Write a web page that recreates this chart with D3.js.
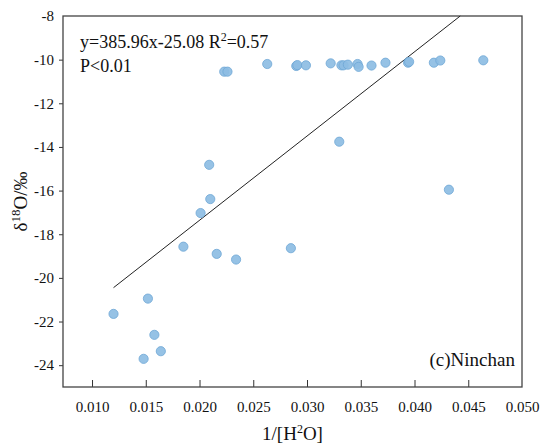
<!DOCTYPE html>
<html>
<head>
<meta charset="utf-8">
<script src="https://cdn.jsdelivr.net/npm/d3@7"></script>
<style>
  body { margin: 0; background: #fff; }
  text { font-family: "Liberation Serif", "Times New Roman", serif; fill: #111; }
</style>
</head>
<body>
<div id="chart"></div>
<script>

  // data
  var invH2O = [0.0223, 0.0226, 0.0263, 0.0290, 0.0291, 0.0299, 0.0322, 0.0332, 0.0334,
                0.0338, 0.0347, 0.0348, 0.0360, 0.0373, 0.0394, 0.0395, 0.0418, 0.0424,
                0.0464, 0.0330, 0.0209, 0.0432, 0.0210, 0.0201, 0.0185, 0.0216, 0.0234,
                0.0285, 0.0152, 0.0120, 0.0158, 0.0164, 0.0148];
  var d18O = [-10.55, -10.55, -10.20, -10.29, -10.25, -10.26, -10.17, -10.26, -10.26,
              -10.23, -10.20, -10.33, -10.27, -10.14, -10.14, -10.10, -10.14, -10.04,
              -10.03, -13.76, -14.82, -15.96, -16.39, -17.03, -18.57, -18.90, -19.16,
              -18.64, -20.95, -21.65, -22.61, -23.36, -23.71];
  var xTicks = [0.010, 0.015, 0.020, 0.025, 0.030, 0.035, 0.040, 0.045, 0.050];
  var yTicks = [-8, -10, -12, -14, -16, -18, -20, -22, -24];
  var slope = 385.96, intercept = -25.08;

  var width = 540, height = 446;
  var margin = { top: 16, right: 18, bottom: 59, left: 63 };
  var iwidth = width - margin.left - margin.right,
      iheight = height - margin.top - margin.bottom;

  var svg = d3.select("#chart").append("svg")
    .attr("width", width)
    .attr("height", height);

  var g = svg.append("g")
    .attr("transform", `translate(${margin.left}, ${margin.top})`);

  var x = d3.scaleLinear().domain([0.0073, 0.050]).range([0, iwidth]);
  var y = d3.scaleLinear().domain([-25, -8]).range([iheight, 0]);

  //=========================================================================
  // axes
  //=========================================================================
  var xAxis = g.append("g")
    .attr("transform", `translate(0, ${iheight})`)
    .call(d3.axisBottom(x).tickValues(xTicks).tickFormat(d3.format(".3f"))
      .tickSizeInner(-7).tickSizeOuter(0).tickPadding(14));
  xAxis.select(".domain").remove();
  xAxis.selectAll("line").attr("stroke", "#333");
  xAxis.selectAll("line").filter(function(d) { return d === 0.050; }).remove();
  xAxis.selectAll("text").attr("font-size", 15)
    .attr("font-family", "Liberation Serif").attr("fill", "#111");

  var yAxis = g.append("g")
    .call(d3.axisLeft(y).tickValues(yTicks).tickFormat(d3.format("d"))
      .tickSizeInner(4).tickSizeOuter(0).tickPadding(5));
  yAxis.select(".domain").remove();
  yAxis.selectAll("line").attr("stroke", "#333");
  yAxis.selectAll("line").filter(function(d) { return d === -8; }).remove();
  yAxis.selectAll("text").attr("font-size", 15)
    .attr("font-family", "Liberation Serif").attr("fill", "#111")
    .text(function(d) { return String(d).replace("\u2212", "-"); });

  // frame
  g.append("rect")
    .attr("x", 0).attr("y", 0)
    .attr("width", iwidth).attr("height", iheight)
    .attr("fill", "none")
    .attr("stroke", "#444")
    .attr("stroke-width", 1.3);

  //=========================================================================
  // regression line
  //=========================================================================
  var x1 = d3.min(invH2O), x2 = (y.domain()[1] - intercept) / slope;
  g.append("line")
    .attr("x1", x(x1)).attr("y1", y(slope * x1 + intercept))
    .attr("x2", x(x2)).attr("y2", y(slope * x2 + intercept))
    .attr("stroke", "#222")
    .attr("stroke-width", 1);

  //=========================================================================
  // points
  //=========================================================================
  g.append("g").selectAll("circle")
    .data(invH2O)
    .enter()
    .append("circle")
    .attr("cx", function(d) { return x(d); })
    .attr("cy", function(d, i) { return y(d18O[i]); })
    .attr("r", 4.6)
    .attr("fill", "#8dbde3")
    .attr("fill-opacity", 0.92)
    .attr("stroke", "#6fa7d6")
    .attr("stroke-width", 0.8);

  //=========================================================================
  // texts
  //=========================================================================
  var eq = g.append("text").attr("x", 17).attr("y", 32).attr("font-size", 18);
  eq.append("tspan").text("y=385.96x-25.08 R");
  eq.append("tspan").attr("dy", -7).attr("font-size", 12).text("2");
  eq.append("tspan").attr("dy", 7).text("=0.57");

  g.append("text").attr("x", 17).attr("y", 56).attr("font-size", 18).text("P<0.01");

  g.append("text").attr("x", iwidth - 7).attr("y", 350)
    .attr("text-anchor", "end").attr("font-size", 19).text("(c)Ninchan");

  var xt = svg.append("text")
    .attr("x", margin.left + iwidth / 2).attr("y", 440)
    .attr("text-anchor", "middle").attr("font-size", 19);
  xt.append("tspan").text("1/[H");
  xt.append("tspan").attr("dy", -7).attr("font-size", 12).text("2");
  xt.append("tspan").attr("dy", 7).text("O]");

  var yt = svg.append("text")
    .attr("transform", `translate(27, ${margin.top + iheight / 2}) rotate(-90)`)
    .attr("text-anchor", "middle").attr("font-size", 19);
  yt.append("tspan").text("\u03b4");
  yt.append("tspan").attr("dy", -7).attr("font-size", 13).text("18");
  yt.append("tspan").attr("dy", 7).text("O/\u2030");

</script>
</body>
</html>
